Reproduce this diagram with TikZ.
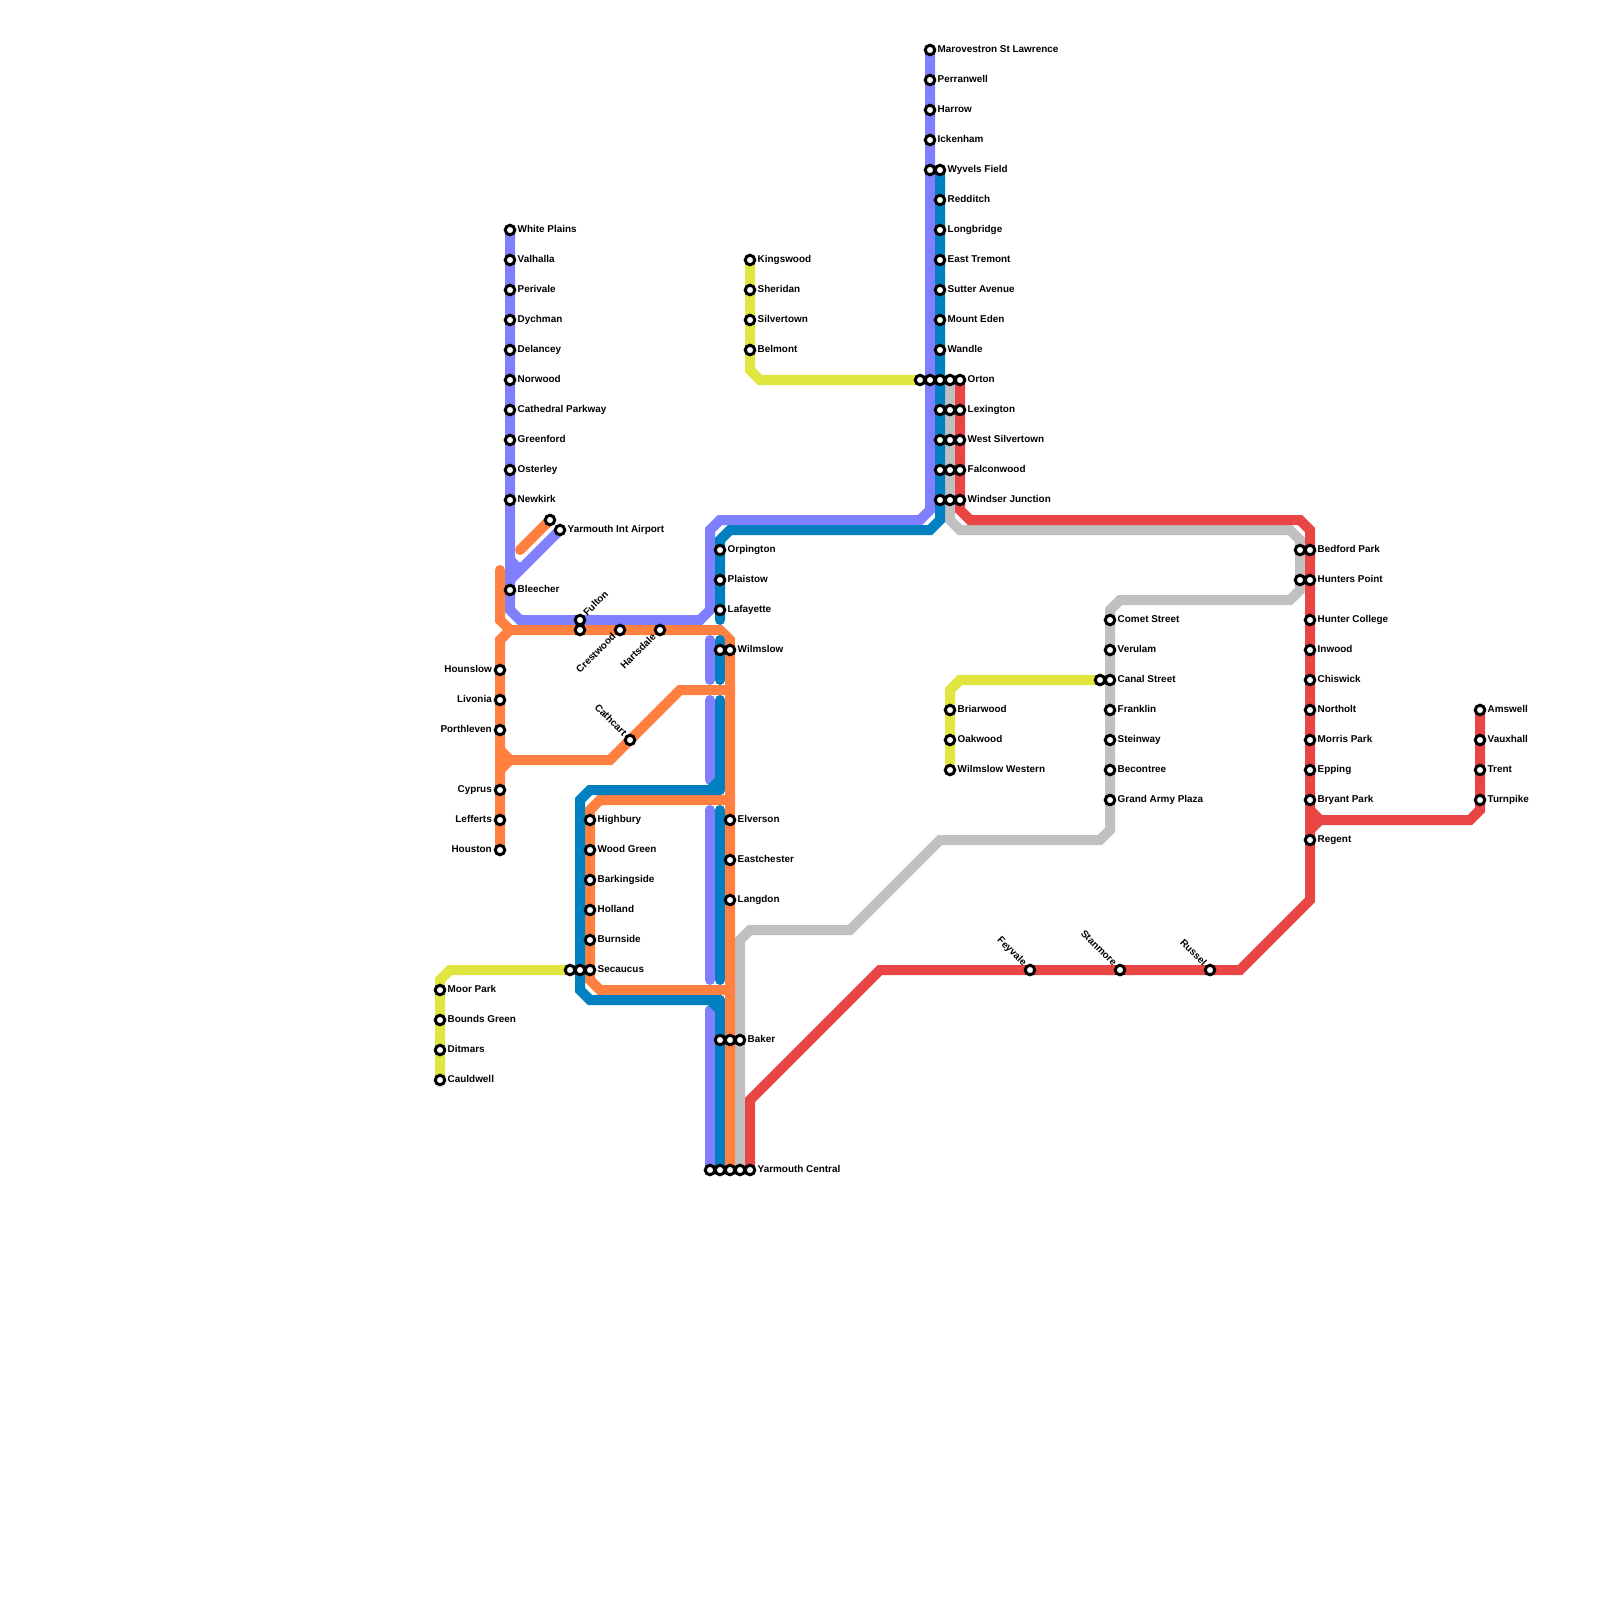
\documentclass[tikz,border=0pt]{standalone}
\usepackage{fontspec}
\setmainfont{Liberation Sans}
\usepackage{xcolor}
\usepackage{tikz}
\usetikzlibrary{backgrounds}
\definecolor{linepurple}{HTML}{8080FF}
\definecolor{lineblue}{HTML}{0080C0}
\definecolor{lineorange}{HTML}{FF8040}
\definecolor{lineyellow}{HTML}{E0E640}
\definecolor{linered}{HTML}{E94545}
\definecolor{linegrey}{HTML}{C0C0C0}
\tikzset{
stn/.style={circle,draw=black,fill=white,line width=0.03cm,minimum size=0.095cm,inner sep=0pt},
lab/.style={inner sep=0pt,font=\fontsize{2.82pt}{3pt}\selectfont\bfseries,text=black},
rlab/.style={lab,anchor=base west,shift={(0.07cm,-0.027cm)}},
llab/.style={lab,anchor=base east,shift={(-0.075cm,-0.027cm)}},
uplab/.style={lab,anchor=base west,rotate=45,shift={(0.07cm,-0.027cm)}},
dnlab/.style={lab,anchor=base east,rotate=45,shift={(-0.07cm,-0.027cm)}},
bklab/.style={lab,anchor=base east,rotate=-45,shift={(-0.07cm,-0.027cm)}},
metro/.style={line width=0.1cm,line cap=round,line join=miter}
}
\begin{document}
\begin{tikzpicture}[x=0.01cm,y=-0.01cm]
\useasboundingbox (0,0) rectangle (1600,1600);
% left purple column
\path(510,230)node[stn](whiteplains){} node[rlab](whiteplainslab){White Plains};
\path(510,260)node[stn](valhalla){} node[rlab](valhallalab){Valhalla};
\path(510,290)node[stn](perivale){} node[rlab](perivalelab){Perivale};
\path(510,320)node[stn](dychman){} node[rlab](dychmanlab){Dychman};
\path(510,350)node[stn](delancey){} node[rlab](delanceylab){Delancey};
\path(510,380)node[stn](norwood){} node[rlab](norwoodlab){Norwood};
\path(510,410)node[stn](cathedral){} node[rlab](cathedrallab){Cathedral Parkway};
\path(510,440)node[stn](greenford){} node[rlab](greenfordlab){Greenford};
\path(510,470)node[stn](osterley){} node[rlab](osterleylab){Osterley};
\path(510,500)node[stn](newkirk){} node[rlab](newkirklab){Newkirk};
\path(510,590)node[stn](bleecher){} node[rlab](bleecherlab){Bleecher};
\path(560,530)node[stn](airport){} node[rlab](airportlab){Yarmouth Int Airport};
\path(550,520)node[stn](airportor){};
% left orange column
\path(500,670)node[stn](hounslow){} node[llab](hounslowlab){Hounslow};
\path(500,700)node[stn](livonia){} node[llab](livonialab){Livonia};
\path(500,730)node[stn](porthleven){} node[llab](porthlevenlab){Porthleven};
\path(500,790)node[stn](cyprus){} node[llab](cypruslab){Cyprus};
\path(500,820)node[stn](lefferts){} node[llab](leffertslab){Lefferts};
\path(500,850)node[stn](houston){} node[llab](houstonlab){Houston};
\path(580,620)node[stn](fulton){} node[uplab](fultonlab){Fulton};
\path(580,630)node[stn](fultonor){};
\path(620,630)node[stn](crestwood){} node[dnlab](crestwoodlab){Crestwood};
\path(660,630)node[stn](hartsdale){} node[dnlab](hartsdalelab){Hartsdale};
\path(630,740)node[stn](cathcart){} node[bklab](cathcartlab){Cathcart};
% middle columns
\path(590,820)node[stn](highbury){} node[rlab](highburylab){Highbury};
\path(590,850)node[stn](woodgreen){} node[rlab](woodgreenlab){Wood Green};
\path(590,880)node[stn](barkingside){} node[rlab](barkingsidelab){Barkingside};
\path(590,910)node[stn](holland){} node[rlab](hollandlab){Holland};
\path(590,940)node[stn](burnside){} node[rlab](burnsidelab){Burnside};
\path(590,970)node[stn](secaucus){} node[rlab](secaucuslab){Secaucus};
\path(580,970)node[stn](secaucusbl){};
\path(570,970)node[stn](secaucusye){};
\path(440,990)node[stn](moorpark){} node[rlab](moorparklab){Moor Park};
\path(440,1020)node[stn](boundsgreen){} node[rlab](boundsgreenlab){Bounds Green};
\path(440,1050)node[stn](ditmars){} node[rlab](ditmarslab){Ditmars};
\path(440,1080)node[stn](cauldwell){} node[rlab](cauldwelllab){Cauldwell};
\path(720,550)node[stn](orpington){} node[rlab](orpingtonlab){Orpington};
\path(720,580)node[stn](plaistow){} node[rlab](plaistowlab){Plaistow};
\path(720,610)node[stn](lafayette){} node[rlab](lafayettelab){Lafayette};
\path(730,650)node[stn](wilmslow){} node[rlab](wilmslowlab){Wilmslow};
\path(720,650)node[stn](wilmslowbl){};
\path(730,820)node[stn](elverson){} node[rlab](elversonlab){Elverson};
\path(730,860)node[stn](eastchester){} node[rlab](eastchesterlab){Eastchester};
\path(730,900)node[stn](langdon){} node[rlab](langdonlab){Langdon};
\path(740,1040)node[stn](baker){} node[rlab](bakerlab){Baker};
\path(730,1040)node[stn](bakeror){};
\path(720,1040)node[stn](bakerbl){};
\path(750,1170)node[stn](yarmouth){} node[rlab](yarmouthlab){Yarmouth Central};
\path(740,1170)node[stn](yarmouthgr){};
\path(730,1170)node[stn](yarmouthor){};
\path(720,1170)node[stn](yarmouthbl){};
\path(710,1170)node[stn](yarmouthpu){};
\path(750,260)node[stn](kingswood){} node[rlab](kingswoodlab){Kingswood};
\path(750,290)node[stn](sheridan){} node[rlab](sheridanlab){Sheridan};
\path(750,320)node[stn](silvertown){} node[rlab](silvertownlab){Silvertown};
\path(750,350)node[stn](belmont){} node[rlab](belmontlab){Belmont};
% top columns
\path(930,50)node[stn](marovestron){} node[rlab](marovestronlab){Marovestron St Lawrence};
\path(930,80)node[stn](perranwell){} node[rlab](perranwelllab){Perranwell};
\path(930,110)node[stn](harrow){} node[rlab](harrowlab){Harrow};
\path(930,140)node[stn](ickenham){} node[rlab](ickenhamlab){Ickenham};
\path(930,170)node[stn](wyvelspu){};
\path(940,170)node[stn](wyvels){} node[rlab](wyvelslab){Wyvels Field};
\path(940,200)node[stn](redditch){} node[rlab](redditchlab){Redditch};
\path(940,230)node[stn](longbridge){} node[rlab](longbridgelab){Longbridge};
\path(940,260)node[stn](easttremont){} node[rlab](easttremontlab){East Tremont};
\path(940,290)node[stn](sutter){} node[rlab](sutterlab){Sutter Avenue};
\path(940,320)node[stn](mounteden){} node[rlab](mountedenlab){Mount Eden};
\path(940,350)node[stn](wandle){} node[rlab](wandlelab){Wandle};
\path(960,380)node[stn](orton){} node[rlab](ortonlab){Orton};
\path(950,380)node[stn](ortongr){};
\path(940,380)node[stn](ortonbl){};
\path(930,380)node[stn](ortonpu){};
\path(920,380)node[stn](ortonye){};
\path(960,410)node[stn](lexington){} node[rlab](lexingtonlab){Lexington};
\path(950,410)node[stn](lexingtongr){};
\path(940,410)node[stn](lexingtonbl){};
\path(960,440)node[stn](westsilver){} node[rlab](westsilverlab){West Silvertown};
\path(950,440)node[stn](westsilvergr){};
\path(940,440)node[stn](westsilverbl){};
\path(960,470)node[stn](falconwood){} node[rlab](falconwoodlab){Falconwood};
\path(950,470)node[stn](falconwoodgr){};
\path(940,470)node[stn](falconwoodbl){};
\path(960,500)node[stn](windser){} node[rlab](windserlab){Windser Junction};
\path(950,500)node[stn](windsergr){};
\path(940,500)node[stn](windserbl){};
% right columns
\path(950,710)node[stn](briarwood){} node[rlab](briarwoodlab){Briarwood};
\path(950,740)node[stn](oakwood){} node[rlab](oakwoodlab){Oakwood};
\path(950,770)node[stn](wilmslowwest){} node[rlab](wilmslowwestlab){Wilmslow Western};
\path(1110,620)node[stn](comet){} node[rlab](cometlab){Comet Street};
\path(1110,650)node[stn](verulam){} node[rlab](verulamlab){Verulam};
\path(1110,680)node[stn](canal){} node[rlab](canallab){Canal Street};
\path(1100,680)node[stn](canalye){};
\path(1110,710)node[stn](franklin){} node[rlab](franklinlab){Franklin};
\path(1110,740)node[stn](steinway){} node[rlab](steinwaylab){Steinway};
\path(1110,770)node[stn](becontree){} node[rlab](becontreelab){Becontree};
\path(1110,800)node[stn](grandarmy){} node[rlab](grandarmylab){Grand Army Plaza};
\path(1030,970)node[stn](feyvale){} node[bklab](feyvalelab){Feyvale};
\path(1120,970)node[stn](stanmore){} node[bklab](stanmorelab){Stanmore};
\path(1210,970)node[stn](russel){} node[bklab](russellab){Russel};
\path(1310,550)node[stn](bedford){} node[rlab](bedfordlab){Bedford Park};
\path(1300,550)node[stn](bedfordgr){};
\path(1310,580)node[stn](hunterspt){} node[rlab](huntersptlab){Hunters Point};
\path(1300,580)node[stn](huntersptgr){};
\path(1310,620)node[stn](huntercol){} node[rlab](huntercollab){Hunter College};
\path(1310,650)node[stn](inwood){} node[rlab](inwoodlab){Inwood};
\path(1310,680)node[stn](chiswick){} node[rlab](chiswicklab){Chiswick};
\path(1310,710)node[stn](northolt){} node[rlab](northoltlab){Northolt};
\path(1310,740)node[stn](morrispark){} node[rlab](morrisparklab){Morris Park};
\path(1310,770)node[stn](epping){} node[rlab](eppinglab){Epping};
\path(1310,800)node[stn](bryantpark){} node[rlab](bryantparklab){Bryant Park};
\path(1310,840)node[stn](regent){} node[rlab](regentlab){Regent};
\path(1480,710)node[stn](amswell){} node[rlab](amswelllab){Amswell};
\path(1480,740)node[stn](vauxhall){} node[rlab](vauxhalllab){Vauxhall};
\path(1480,770)node[stn](trent){} node[rlab](trentlab){Trent};
\path(1480,800)node[stn](turnpike){} node[rlab](turnpikelab){Turnpike};
% bends and loose ends
\coordinate(pu1)at(510,610);
\coordinate(pu2)at(520,620);
\coordinate(pu3)at(700,620);
\coordinate(pu4)at(710,610);
\coordinate(pu5)at(710,530);
\coordinate(pu6)at(720,520);
\coordinate(pu7)at(920,520);
\coordinate(pu8)at(930,510);
\coordinate(pu9)at(510,560);
\coordinate(pu10)at(520,570);
\coordinate(pu11)at(510,580);
\coordinate(pu12)at(710,640);
\coordinate(pu13)at(710,680);
\coordinate(pu14)at(710,700);
\coordinate(pu15)at(710,780);
\coordinate(pu16)at(710,810);
\coordinate(pu17)at(710,980);
\coordinate(pu18)at(710,1010);
\coordinate(bl1)at(940,520);
\coordinate(bl2)at(930,530);
\coordinate(bl3)at(730,530);
\coordinate(bl4)at(720,540);
\coordinate(bl5)at(720,620);
\coordinate(bl6)at(720,640);
\coordinate(bl7)at(720,680);
\coordinate(bl8)at(720,700);
\coordinate(bl9)at(720,790);
\coordinate(bl10)at(590,790);
\coordinate(bl11)at(580,800);
\coordinate(bl12)at(580,990);
\coordinate(bl13)at(590,1000);
\coordinate(bl14)at(720,1000);
\coordinate(bl15)at(720,780);
\coordinate(bl16)at(710,790);
\coordinate(bl17)at(720,810);
\coordinate(bl18)at(720,980);
\coordinate(bl19)at(710,1000);
\coordinate(bl20)at(720,1010);
\coordinate(or1)at(500,570);
\coordinate(or2)at(500,620);
\coordinate(or3)at(510,630);
\coordinate(or4)at(720,630);
\coordinate(or5)at(730,640);
\coordinate(or6)at(500,640);
\coordinate(or7)at(500,750);
\coordinate(or8)at(510,760);
\coordinate(or9)at(610,760);
\coordinate(or10)at(680,690);
\coordinate(or11)at(730,690);
\coordinate(or12)at(500,770);
\coordinate(or13)at(520,550);
\coordinate(or14)at(590,810);
\coordinate(or15)at(600,800);
\coordinate(or16)at(730,800);
\coordinate(or17)at(590,980);
\coordinate(or18)at(600,990);
\coordinate(or19)at(730,990);
\coordinate(ye1)at(750,370);
\coordinate(ye2)at(760,380);
\coordinate(ye3)at(440,980);
\coordinate(ye4)at(450,970);
\coordinate(ye5)at(950,690);
\coordinate(ye6)at(960,680);
\coordinate(gr1)at(950,520);
\coordinate(gr2)at(960,530);
\coordinate(gr3)at(1290,530);
\coordinate(gr4)at(1300,540);
\coordinate(gr5)at(1300,590);
\coordinate(gr6)at(1290,600);
\coordinate(gr7)at(1120,600);
\coordinate(gr8)at(1110,610);
\coordinate(gr9)at(1110,830);
\coordinate(gr10)at(1100,840);
\coordinate(gr11)at(940,840);
\coordinate(gr12)at(850,930);
\coordinate(gr13)at(750,930);
\coordinate(gr14)at(740,940);
\coordinate(re1)at(960,510);
\coordinate(re2)at(970,520);
\coordinate(re3)at(1300,520);
\coordinate(re4)at(1310,530);
\coordinate(re5)at(1310,900);
\coordinate(re6)at(1240,970);
\coordinate(re7)at(880,970);
\coordinate(re8)at(750,1100);
\coordinate(re9)at(1310,810);
\coordinate(re10)at(1320,820);
\coordinate(re11)at(1470,820);
\coordinate(re12)at(1480,810);
\coordinate(re13)at(1310,830);
\begin{pgfonlayer}{background}
% purple
\draw[metro,linepurple](marovestron.center)--(pu8)--(pu7)--(pu6)--(pu5)--(pu4)--(pu3)--(pu2)--(pu1)--(whiteplains.center);
\draw[metro,linepurple](pu9)--(pu10);
\draw[metro,linepurple](pu11)--(airport.center);
\draw[metro,linepurple](pu12)--(pu13);
\draw[metro,linepurple](pu14)--(pu15);
\draw[metro,linepurple](pu16)--(pu17);
\draw[metro,linepurple](pu18)--(yarmouthpu.center);
% grey, red
\draw[metro,linegrey](ortongr.center)--(gr1)--(gr2)--(gr3)--(gr4)--(gr5)--(gr6)--(gr7)--(gr8)--(gr9)--(gr10)--(gr11)--(gr12)--(gr13)--(gr14)--(yarmouthgr.center);
\draw[metro,linered](orton.center)--(re1)--(re2)--(re3)--(re4)--(re5)--(re6)--(re7)--(re8)--(yarmouth.center);
\draw[metro,linered](re9)--(re10)--(re11)--(re12)--(amswell.center);
\draw[metro,linered](re13)--(re10);
% orange
\draw[metro,lineorange](or1)--(or2)--(or3)--(or4)--(or5)--(yarmouthor.center);
\draw[metro,lineorange](houston.center)--(or6)--(or3);
\draw[metro,lineorange](or7)--(or8)--(or9)--(or10)--(or11);
\draw[metro,lineorange](or12)--(or8);
\draw[metro,lineorange](or13)--(airportor.center);
\draw[metro,lineorange](or16)--(or15)--(or14)--(or17)--(or18)--(or19);
% blue
\draw[metro,lineblue](wyvels.center)--(bl1)--(bl2)--(bl3)--(bl4)--(bl5);
\draw[metro,lineblue](bl6)--(bl7);
\draw[metro,lineblue](bl8)--(bl9);
\draw[metro,lineblue](bl9)--(bl10)--(bl11)--(bl12)--(bl13)--(bl14);
\draw[metro,lineblue](bl14)--(yarmouthbl.center);
\draw[metro,lineblue](bl15)--(bl16);
\draw[metro,lineblue](bl19)--(bl20);
\draw[metro,lineblue](bl17)--(bl18);
% yellow
\draw[metro,lineyellow](kingswood.center)--(ye1)--(ye2)--(ortonye.center);
\draw[metro,lineyellow](cauldwell.center)--(ye3)--(ye4)--(secaucusye.center);
\draw[metro,lineyellow](wilmslowwest.center)--(ye5)--(ye6)--(canalye.center);
\end{pgfonlayer}
\end{tikzpicture}
\end{document}
